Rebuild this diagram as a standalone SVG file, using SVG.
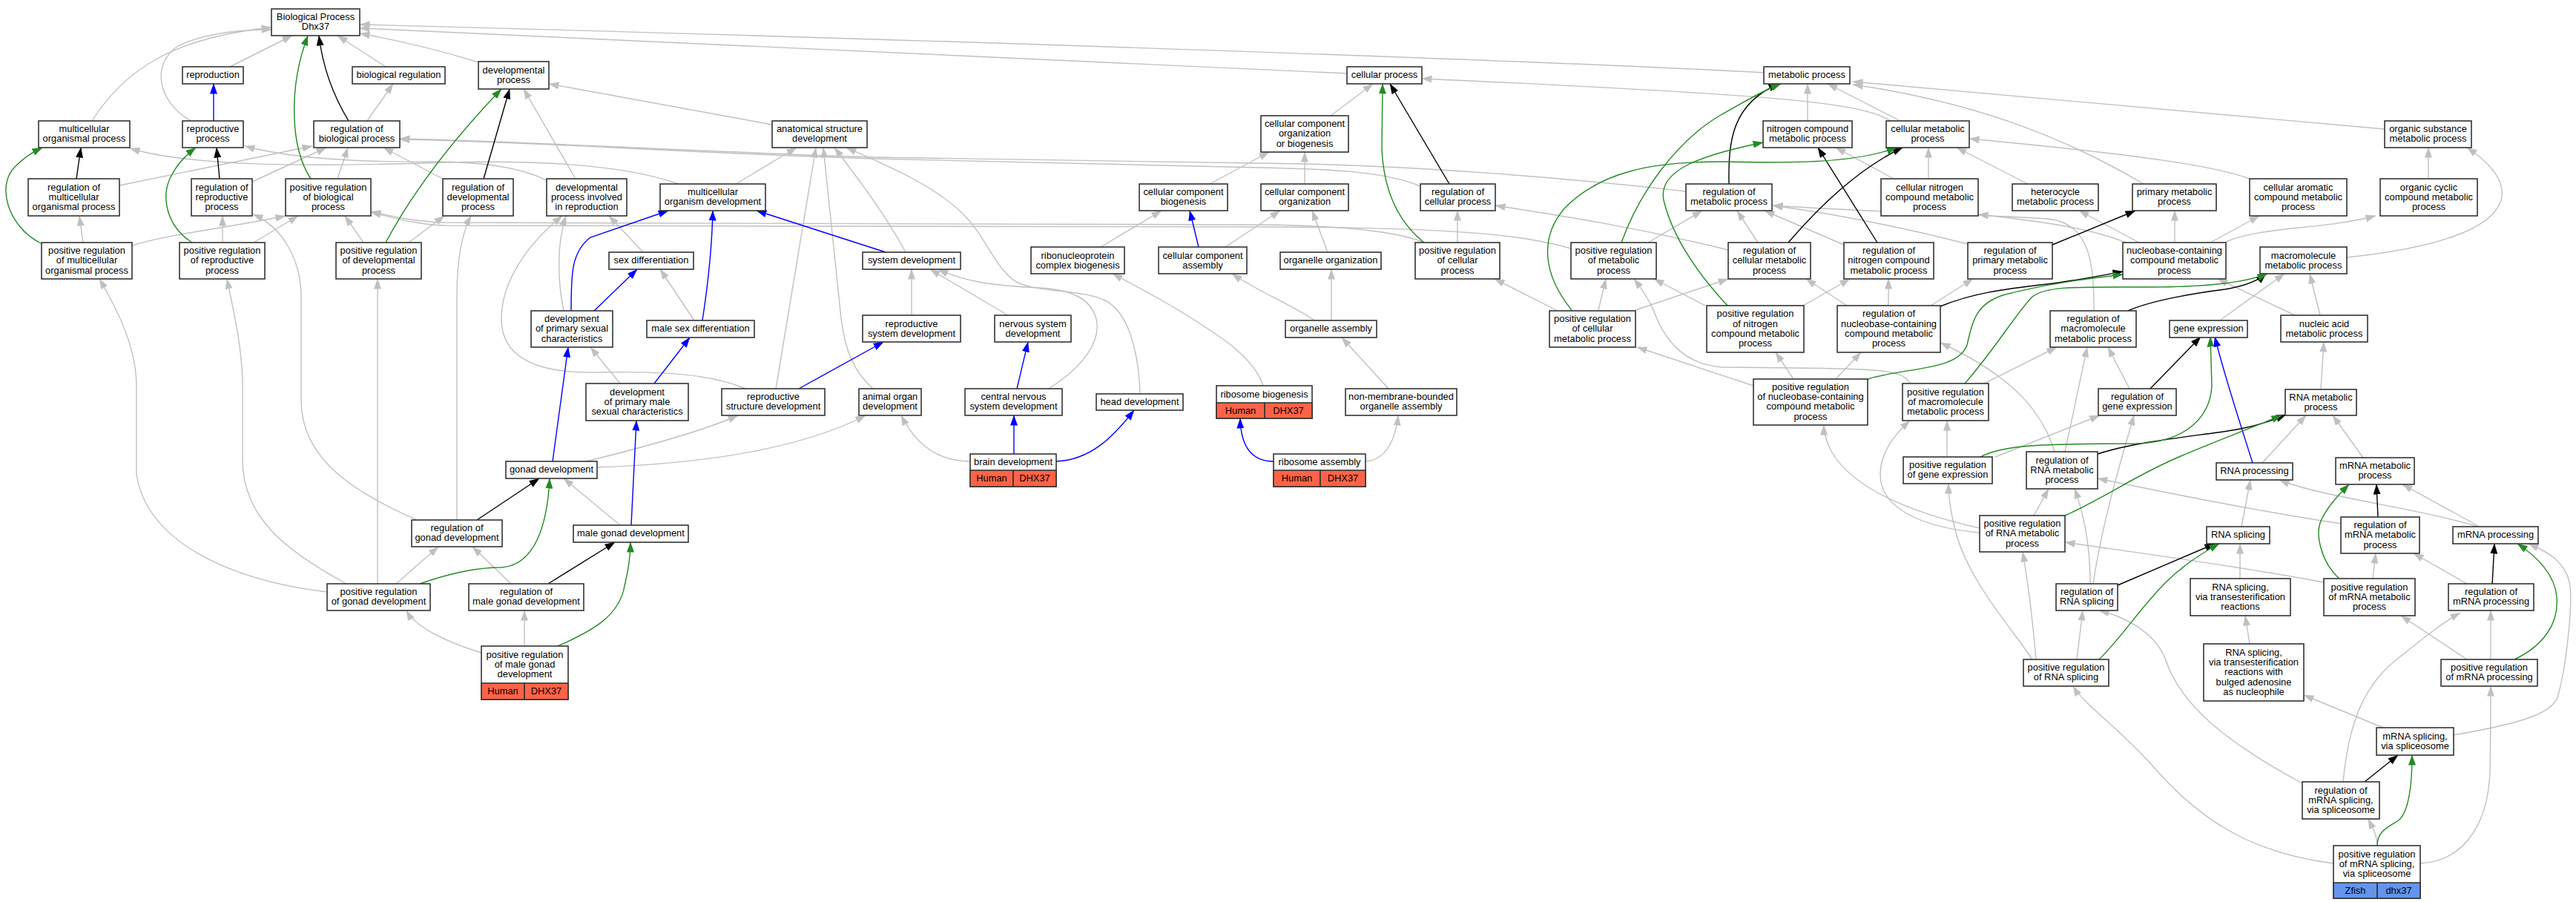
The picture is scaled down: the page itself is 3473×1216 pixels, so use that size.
<svg xmlns="http://www.w3.org/2000/svg" width="3473" height="1216" viewBox="0 0 3473 1216">
<style>
.n rect{fill:#fff;stroke:#333;stroke-width:1.6}
.n rect.red{fill:#ff6347}
.n rect.blu{fill:#6495ed}
text{font-family:"Liberation Sans",Arial,sans-serif;font-size:12.9px;text-anchor:middle;fill:#000}
#edges path{fill:none;stroke-width:1.4}
.g{stroke:#c0c0c0;marker-end:url(#ag)}
.k{stroke:#000;marker-end:url(#ak)}
.v{stroke:#228b22;marker-end:url(#av)}
.b{stroke:#0000ff;marker-end:url(#ab)}
</style>
<defs>
<marker id="ag" viewBox="0 0 14 10" refX="13.5" refY="5" markerWidth="14" markerHeight="10" markerUnits="userSpaceOnUse" orient="auto"><path d="M0,0L14,5L0,10z" fill="#c0c0c0"/></marker>
<marker id="ak" viewBox="0 0 14 10" refX="13.5" refY="5" markerWidth="14" markerHeight="10" markerUnits="userSpaceOnUse" orient="auto"><path d="M0,0L14,5L0,10z" fill="#000"/></marker>
<marker id="av" viewBox="0 0 14 10" refX="13.5" refY="5" markerWidth="14" markerHeight="10" markerUnits="userSpaceOnUse" orient="auto"><path d="M0,0L14,5L0,10z" fill="#228b22"/></marker>
<marker id="ab" viewBox="0 0 14 10" refX="13.5" refY="5" markerWidth="14" markerHeight="10" markerUnits="userSpaceOnUse" orient="auto"><path d="M0,0L14,5L0,10z" fill="#0000ff"/></marker>
</defs>
<rect width="3473" height="1216" fill="#fff"/>
<g id="edges">
<path class="g" d="M310,90 L394,48"/>
<path class="g" d="M124,163 C170,90 240,50 366,37"/>
<path class="g" d="M257,163 C210,135 205,85 240,62 C275,45 320,40 366,40"/>
<path class="g" d="M520,90 L455,48"/>
<path class="g" d="M645,84 C600,70 540,55 485,45"/>
<path class="g" d="M1816,99 L485,38"/>
<path class="g" d="M2378,98 C2200,88 1500,60 485,33"/>
<path class="g" d="M495,163 L530,113"/>
<path class="g" d="M1794,156 L1851,113"/>
<path class="g" d="M1631,248 L1711,205"/>
<path class="g" d="M1759,248 L1759,205"/>
<path class="g" d="M2549,163 C2510,138 2400,128 1917,106"/>
<path class="g" d="M2437,163 L2437,113"/>
<path class="g" d="M2562,163 L2464,113"/>
<path class="g" d="M3215,174 L2498,110"/>
<path class="g" d="M2890,248 C2800,195 2680,140 2498,114"/>
<path class="g" d="M3033,241 C2990,225 2900,210 2655,187"/>
<path class="g" d="M2600,241 L2600,199"/>
<path class="g" d="M2734,248 L2638,199"/>
<path class="g" d="M2553,241 L2475,199"/>
<path class="g" d="M2866,327 C2820,308 2750,298 2667,289"/>
<path class="g" d="M2884,327 L2803,284"/>
<path class="g" d="M2932,327 L2932,284"/>
<path class="g" d="M2980,327 L3046,291"/>
<path class="g" d="M3001,326 C3050,305 3130,310 3203,291"/>
<path class="g" d="M3274,241 L3274,199"/>
<path class="g" d="M3164,347 C3280,335 3360,310 3372,270 C3380,240 3350,215 3326,199"/>
<path class="g" d="M3128,425 L3114,369"/>
<path class="g" d="M3094,425 L2990,376"/>
<path class="g" d="M2993,432 L3080,369"/>
<path class="g" d="M3129,525 L3133,461"/>
<path class="g" d="M3050,624 L3109,560"/>
<path class="g" d="M3186,617 L3145,560"/>
<path class="g" d="M3022,710 L3034,647"/>
<path class="g" d="M3341,710 C3260,685 3130,670 3073,647"/>
<path class="g" d="M3343,710 L3239,653"/>
<path class="g" d="M3020,780 L3020,733"/>
<path class="g" d="M3033,868 L3027,830"/>
<path class="g" d="M3326,787 L3254,746"/>
<path class="g" d="M3358,889 L3358,823"/>
<path class="g" d="M3326,889 L3237,830"/>
<path class="g" d="M3199,780 L3203,746"/>
<path class="g" d="M3213,981 L3106,937"/>
<path class="g" d="M3308,991 C3400,975 3440,962 3448,940 C3460,900 3468,820 3465,790 C3460,755 3430,742 3409,733"/>
<path class="g" d="M3159,1054 C3165,990 3180,930 3230,890 C3265,862 3295,838 3317,826"/>
<path class="g" d="M3104,1056 C3000,1000 2940,950 2920,890 C2905,850 2860,830 2830,823"/>
<path class="g" d="M3205,1140 C3205,1125 3198,1115 3193,1104"/>
<path class="g" d="M3263,1164 C3330,1160 3355,1100 3357,1040 C3358,990 3358,950 3358,925"/>
<path class="g" d="M3146,1164 C3030,1150 2960,1100 2900,1030 C2860,985 2810,950 2795,925"/>
<path class="g" d="M3156,706 C3050,690 2900,660 2828,645"/>
<path class="g" d="M3133,785 C3030,765 2880,745 2784,731"/>
<path class="g" d="M2818,787 C2818,740 2812,700 2797,659"/>
<path class="g" d="M2822,787 C2835,700 2860,620 2877,560"/>
<path class="g" d="M2745,889 C2740,830 2735,790 2727,744"/>
<path class="g" d="M2740,889 C2715,850 2650,780 2635,710 C2630,690 2627,670 2627,652"/>
<path class="g" d="M2800,889 L2808,823"/>
<path class="g" d="M2742,695 L2762,659"/>
<path class="g" d="M2669,712 C2580,692 2500,660 2470,610 C2462,595 2459,585 2459,573"/>
<path class="g" d="M2669,718 C2580,710 2535,680 2535,640 C2535,610 2555,585 2575,567"/>
<path class="g" d="M2625,616 L2625,567"/>
<path class="g" d="M2690,616 L2831,560"/>
<path class="g" d="M2675,517 L2773,468"/>
<path class="g" d="M2784,609 L2814,468"/>
<path class="g" d="M2871,524 L2842,468"/>
<path class="g" d="M2770,609 C2755,560 2720,510 2616,462"/>
<path class="g" d="M2418,511 L2394,475"/>
<path class="g" d="M2475,511 L2509,475"/>
<path class="g" d="M2364,520 L2207,468"/>
<path class="g" d="M2575,517 C2565,495 2520,497 2320,495 C2270,490 2245,460 2230,420 C2222,400 2210,385 2203,376"/>
<path class="g" d="M2299,412 L2230,376"/>
<path class="g" d="M2431,412 L2494,376"/>
<path class="g" d="M2490,412 L2435,376"/>
<path class="g" d="M2546,412 L2546,376"/>
<path class="g" d="M2603,412 L2660,376"/>
<path class="g" d="M2823,419 C2823,360 2820,300 2760,295 C2650,288 2500,285 2390,277"/>
<path class="g" d="M2653,329 C2560,305 2470,288 2390,277"/>
<path class="g" d="M2370,327 L2342,284"/>
<path class="g" d="M2486,330 L2379,284"/>
<path class="g" d="M2222,327 L2295,284"/>
<path class="g" d="M2330,337 C2200,305 2100,290 2016,277"/>
<path class="g" d="M2205,418 L2330,376"/>
<path class="g" d="M2155,418 L2165,376"/>
<path class="g" d="M2098,418 L2015,376"/>
<path class="g" d="M1965,327 L1965,284"/>
<path class="g" d="M1915,251 C1870,232 1800,228 1700,226 L1180,214 C900,205 700,190 539,188"/>
<path class="g" d="M2273,258 C2100,238 1900,224 1760,221 L1180,212 C900,203 700,190 539,187"/>
<path class="g" d="M915,248 C850,225 750,215 600,219 C420,225 260,225 175,200"/>
<path class="g" d="M737,243 C700,225 650,218 580,218 C470,219 390,213 330,197"/>
<path class="g" d="M597,241 L517,199"/>
<path class="g" d="M161,250 L421,197"/>
<path class="g" d="M340,245 L440,199"/>
<path class="g" d="M455,241 L469,199"/>
<path class="g" d="M178,331 C230,315 320,305 385,291"/>
<path class="g" d="M342,327 L402,291"/>
<path class="g" d="M490,327 L465,291"/>
<path class="g" d="M1920,327 C1880,310 1800,304 1700,303 L600,300 C560,299 530,292 500,285"/>
<path class="g" d="M2118,335 C2060,318 1980,308 1740,306 L600,304 C560,303 530,293 500,286"/>
<path class="g" d="M112,327 L107,291"/>
<path class="g" d="M300,327 L300,291"/>
<path class="g" d="M551,327 L599,291"/>
<path class="g" d="M562,701 C480,665 406,620 406,540 L406,400 C406,350 380,305 341,289"/>
<path class="g" d="M467,787 C390,745 327,700 327,620 L327,520 C327,470 315,420 306,376"/>
<path class="g" d="M441,798 C330,785 200,740 184,640 L184,520 C184,470 160,420 134,376"/>
<path class="g" d="M509,787 L509,376"/>
<path class="g" d="M616,701 L616,400 C616,340 625,310 635,291"/>
<path class="g" d="M534,787 L591,737"/>
<path class="g" d="M689,787 L637,737"/>
<path class="g" d="M836,708 L760,645"/>
<path class="g" d="M790,622 C880,600 950,580 995,560"/>
<path class="g" d="M805,630 C950,625 1080,605 1167,560"/>
<path class="g" d="M836,517 L796,468"/>
<path class="g" d="M936,432 L890,363"/>
<path class="g" d="M867,340 L821,291"/>
<path class="g" d="M760,419 C752,380 750,330 763,291"/>
<path class="g" d="M1005,524 C960,505 900,500 800,502 C720,503 676,480 676,430 C676,380 710,330 758,291"/>
<path class="g" d="M1046,524 L1100,199"/>
<path class="g" d="M1177,524 C1150,500 1138,470 1133,420 L1110,199"/>
<path class="g" d="M1221,340 C1205,310 1180,270 1125,199"/>
<path class="g" d="M1537,531 C1535,470 1520,420 1490,405 C1460,390 1400,395 1370,380 C1340,360 1330,320 1300,290 C1260,250 1200,225 1141,199"/>
<path class="g" d="M1359,425 L1254,363"/>
<path class="g" d="M1229,425 L1229,363"/>
<path class="g" d="M1414,524 C1460,495 1485,460 1478,430 C1470,400 1440,390 1400,388 C1340,385 1300,380 1265,363"/>
<path class="g" d="M1308,622 C1265,622 1235,600 1215,560"/>
<path class="g" d="M1484,333 L1566,284"/>
<path class="g" d="M1652,333 L1726,284"/>
<path class="g" d="M1790,340 L1769,284"/>
<path class="g" d="M1772,432 C1740,410 1700,395 1661,369"/>
<path class="g" d="M1795,432 L1795,363"/>
<path class="g" d="M1872,524 L1809,455"/>
<path class="g" d="M1841,622 C1870,620 1882,590 1885,560"/>
<path class="g" d="M1703,520 C1690,480 1640,450 1600,425 C1560,400 1530,385 1500,369"/>
<path class="g" d="M992,248 L1074,199"/>
<path class="g" d="M776,241 L706,120"/>
<path class="g" d="M1041,168 L740,113"/>
<path class="g" d="M707,871 L707,823"/>
<path class="g" d="M649,880 C600,865 560,845 548,823"/>
<path class="b" d="M288,163 L288,113"/>
<path class="b" d="M770,419 C770,370 770,340 796,320 L901,284"/>
<path class="b" d="M947,432 C955,380 960,330 961,284"/>
<path class="b" d="M1194,340 L1020,284"/>
<path class="b" d="M801,419 L859,363"/>
<path class="b" d="M745,622 L766,468"/>
<path class="b" d="M882,517 L930,455"/>
<path class="b" d="M851,708 L858,567"/>
<path class="b" d="M1077,524 L1191,461"/>
<path class="b" d="M1371,524 L1386,461"/>
<path class="b" d="M1367,612 L1367,560"/>
<path class="b" d="M1424,622 C1470,620 1500,590 1529,553"/>
<path class="b" d="M1717,622 C1690,622 1673,605 1672,564"/>
<path class="b" d="M1616,333 L1604,284"/>
<path class="b" d="M3037,624 C3020,570 3000,510 2986,454"/>
<path class="k" d="M470,163 C450,130 435,90 430,48"/>
<path class="k" d="M103,241 L109,199"/>
<path class="k" d="M296,241 L292,199"/>
<path class="k" d="M652,241 L687,120"/>
<path class="k" d="M643,701 L727,645"/>
<path class="k" d="M739,787 L829,731"/>
<path class="k" d="M1954,248 L1874,113"/>
<path class="k" d="M2331,248 C2330,190 2335,140 2398,113"/>
<path class="k" d="M2411,327 C2460,270 2510,225 2565,199"/>
<path class="k" d="M2531,327 L2451,199"/>
<path class="k" d="M2767,330 L2879,284"/>
<path class="k" d="M2616,413 C2660,395 2700,390 2760,383 C2800,378 2830,372 2862,366"/>
<path class="k" d="M2869,419 C2900,405 2960,395 3000,390 C3030,385 3045,378 3055,369"/>
<path class="k" d="M2899,524 L2967,454"/>
<path class="k" d="M2828,612 C2880,595 2960,588 3010,580 C3045,574 3065,566 3082,559"/>
<path class="k" d="M2855,789 L2986,733"/>
<path class="k" d="M3206,697 L3204,653"/>
<path class="k" d="M3360,789 L3363,733"/>
<path class="k" d="M3188,1054 L3233,1018"/>
<path class="v" d="M419,241 C392,200 388,120 415,48"/>
<path class="v" d="M55,328 C10,305 -5,250 20,225 C35,210 45,205 57,199"/>
<path class="v" d="M259,327 C225,305 215,265 232,235 C240,220 252,208 264,199"/>
<path class="v" d="M520,327 C545,280 590,210 676,120"/>
<path class="v" d="M566,787 C600,775 640,765 676,765 C720,762 738,710 741,645"/>
<path class="v" d="M752,871 C800,850 835,830 842,790 C848,765 850,745 850,731"/>
<path class="v" d="M1920,327 C1880,295 1865,250 1863,200 L1864,113"/>
<path class="v" d="M2186,327 C2210,260 2260,190 2320,155 C2350,138 2375,123 2401,113"/>
<path class="v" d="M2119,418 C2080,370 2075,320 2110,280 C2160,230 2230,218 2320,218 C2420,220 2500,220 2557,199"/>
<path class="v" d="M2329,412 C2290,370 2255,320 2243,270 C2235,230 2290,210 2377,192"/>
<path class="v" d="M2518,511 C2570,495 2640,500 2652,465 C2660,430 2665,410 2700,398 C2760,382 2820,375 2862,370"/>
<path class="v" d="M2649,517 C2690,470 2720,420 2740,400 C2760,385 2800,387 2900,387 C2980,387 3030,380 3057,369"/>
<path class="v" d="M2670,616 C2700,600 2750,598 2880,598 C2950,596 2980,560 2982,520 L2980,454"/>
<path class="v" d="M2784,695 C2840,670 2880,640 2940,615 C3000,590 3040,575 3076,560"/>
<path class="v" d="M2830,889 C2860,860 2885,820 2920,785 C2945,760 2970,745 2992,733"/>
<path class="v" d="M3156,782 C3130,760 3120,720 3130,700 C3140,680 3155,665 3167,653"/>
<path class="v" d="M3390,889 C3430,870 3450,840 3447,805 C3445,775 3420,750 3394,733"/>
<path class="v" d="M3205,1140 C3205,1120 3220,1115 3235,1105 C3250,1090 3252,1050 3252,1018"/>
</g>
<g id="n_bp" class="n"><rect x="366" y="12" width="119" height="36"/><text x="425.5" y="27.15">Biological Process<tspan x="425.5" dy="13.3">Dhx37</tspan></text></g>
<g id="n_repro" class="n"><rect x="246" y="90" width="82" height="23"/><text x="287" y="105.3">reproduction</text></g>
<g id="n_bioreg" class="n"><rect x="475" y="90" width="125" height="23"/><text x="537.5" y="105.3">biological regulation</text></g>
<g id="n_devproc" class="n"><rect x="645" y="83" width="95" height="37"/><text x="692.5" y="98.65">developmental<tspan x="692.5" dy="13.3">process</tspan></text></g>
<g id="n_cp" class="n"><rect x="1816" y="90" width="101" height="23"/><text x="1866.5" y="105.3">cellular process</text></g>
<g id="n_mp" class="n"><rect x="2378" y="90" width="116" height="23"/><text x="2436" y="105.3">metabolic process</text></g>
<g id="n_mop" class="n"><rect x="52" y="163" width="123" height="36"/><text x="113.5" y="178.15">multicellular<tspan x="113.5" dy="13.3">organismal process</tspan></text></g>
<g id="n_rp" class="n"><rect x="246" y="163" width="82" height="36"/><text x="287" y="178.15">reproductive<tspan x="287" dy="13.3">process</tspan></text></g>
<g id="n_rbp" class="n"><rect x="423" y="163" width="116" height="36"/><text x="481" y="178.15">regulation of<tspan x="481" dy="13.3">biological process</tspan></text></g>
<g id="n_asd" class="n"><rect x="1041" y="163" width="128" height="36"/><text x="1105" y="178.15">anatomical structure<tspan x="1105" dy="13.3">development</tspan></text></g>
<g id="n_ccoob" class="n"><rect x="1700" y="156" width="118" height="49"/><text x="1759" y="171">cellular component<tspan x="1759" dy="13.3">organization</tspan><tspan x="1759" dy="13.3">or biogenesis</tspan></text></g>
<g id="n_ncmp" class="n"><rect x="2377" y="163" width="120" height="36"/><text x="2437" y="178.15">nitrogen compound<tspan x="2437" dy="13.3">metabolic process</tspan></text></g>
<g id="n_cmp" class="n"><rect x="2543" y="163" width="112" height="36"/><text x="2599" y="178.15">cellular metabolic<tspan x="2599" dy="13.3">process</tspan></text></g>
<g id="n_osmp" class="n"><rect x="3215" y="163" width="117" height="36"/><text x="3273.5" y="178.15">organic substance<tspan x="3273.5" dy="13.3">metabolic process</tspan></text></g>
<g id="n_rmop" class="n"><rect x="38" y="241" width="123" height="50"/><text x="99.5" y="256.5">regulation of<tspan x="99.5" dy="13.3">multicellular</tspan><tspan x="99.5" dy="13.3">organismal process</tspan></text></g>
<g id="n_rrp" class="n"><rect x="258" y="241" width="82" height="50"/><text x="299" y="256.5">regulation of<tspan x="299" dy="13.3">reproductive</tspan><tspan x="299" dy="13.3">process</tspan></text></g>
<g id="n_prbp" class="n"><rect x="385" y="241" width="115" height="50"/><text x="442.5" y="256.5">positive regulation<tspan x="442.5" dy="13.3">of biological</tspan><tspan x="442.5" dy="13.3">process</tspan></text></g>
<g id="n_rdp" class="n"><rect x="597" y="241" width="95" height="50"/><text x="644.5" y="256.5">regulation of<tspan x="644.5" dy="13.3">developmental</tspan><tspan x="644.5" dy="13.3">process</tspan></text></g>
<g id="n_dpir" class="n"><rect x="737" y="241" width="108" height="50"/><text x="791" y="256.5">developmental<tspan x="791" dy="13.3">process involved</tspan><tspan x="791" dy="13.3">in reproduction</tspan></text></g>
<g id="n_mod" class="n"><rect x="890" y="248" width="142" height="36"/><text x="961" y="263.15">multicellular<tspan x="961" dy="13.3">organism development</tspan></text></g>
<g id="n_ccb" class="n"><rect x="1536" y="248" width="119" height="36"/><text x="1595.5" y="263.15">cellular component<tspan x="1595.5" dy="13.3">biogenesis</tspan></text></g>
<g id="n_cco" class="n"><rect x="1700" y="248" width="118" height="36"/><text x="1759" y="263.15">cellular component<tspan x="1759" dy="13.3">organization</tspan></text></g>
<g id="n_rcp" class="n"><rect x="1915" y="248" width="101" height="36"/><text x="1965.5" y="263.15">regulation of<tspan x="1965.5" dy="13.3">cellular process</tspan></text></g>
<g id="n_rmp" class="n"><rect x="2273" y="248" width="116" height="36"/><text x="2331" y="263.15">regulation of<tspan x="2331" dy="13.3">metabolic process</tspan></text></g>
<g id="n_cncmp" class="n"><rect x="2536" y="241" width="131" height="50"/><text x="2601.5" y="256.5">cellular nitrogen<tspan x="2601.5" dy="13.3">compound metabolic</tspan><tspan x="2601.5" dy="13.3">process</tspan></text></g>
<g id="n_het" class="n"><rect x="2713" y="248" width="116" height="36"/><text x="2771" y="263.15">heterocycle<tspan x="2771" dy="13.3">metabolic process</tspan></text></g>
<g id="n_pmp" class="n"><rect x="2875" y="248" width="113" height="36"/><text x="2931.5" y="263.15">primary metabolic<tspan x="2931.5" dy="13.3">process</tspan></text></g>
<g id="n_cacmp" class="n"><rect x="3033" y="241" width="131" height="50"/><text x="3098.5" y="256.5">cellular aromatic<tspan x="3098.5" dy="13.3">compound metabolic</tspan><tspan x="3098.5" dy="13.3">process</tspan></text></g>
<g id="n_occmp" class="n"><rect x="3209" y="241" width="131" height="50"/><text x="3274.5" y="256.5">organic cyclic<tspan x="3274.5" dy="13.3">compound metabolic</tspan><tspan x="3274.5" dy="13.3">process</tspan></text></g>
<g id="n_prmop" class="n"><rect x="56" y="327" width="122" height="49"/><text x="117" y="342">positive regulation<tspan x="117" dy="13.3">of multicellular</tspan><tspan x="117" dy="13.3">organismal process</tspan></text></g>
<g id="n_prrp" class="n"><rect x="242" y="327" width="115" height="49"/><text x="299.5" y="342">positive regulation<tspan x="299.5" dy="13.3">of reproductive</tspan><tspan x="299.5" dy="13.3">process</tspan></text></g>
<g id="n_prdp" class="n"><rect x="453" y="327" width="115" height="49"/><text x="510.5" y="342">positive regulation<tspan x="510.5" dy="13.3">of developmental</tspan><tspan x="510.5" dy="13.3">process</tspan></text></g>
<g id="n_sd" class="n"><rect x="821" y="340" width="114" height="23"/><text x="878" y="355.3">sex differentiation</text></g>
<g id="n_sysdev" class="n"><rect x="1163" y="340" width="132" height="23"/><text x="1229" y="355.3">system development</text></g>
<g id="n_rcb" class="n"><rect x="1390" y="333" width="126" height="36"/><text x="1453" y="348.65">ribonucleoprotein<tspan x="1453" dy="13.3">complex biogenesis</tspan></text></g>
<g id="n_cca" class="n"><rect x="1562" y="333" width="119" height="36"/><text x="1621.5" y="348.65">cellular component<tspan x="1621.5" dy="13.3">assembly</tspan></text></g>
<g id="n_oo" class="n"><rect x="1726" y="340" width="136" height="23"/><text x="1794" y="355.3">organelle organization</text></g>
<g id="n_prcp" class="n"><rect x="1908" y="327" width="114" height="49"/><text x="1965" y="342">positive regulation<tspan x="1965" dy="13.3">of cellular</tspan><tspan x="1965" dy="13.3">process</tspan></text></g>
<g id="n_prmp" class="n"><rect x="2118" y="327" width="115" height="49"/><text x="2175.5" y="342">positive regulation<tspan x="2175.5" dy="13.3">of metabolic</tspan><tspan x="2175.5" dy="13.3">process</tspan></text></g>
<g id="n_rcmp" class="n"><rect x="2330" y="327" width="111" height="49"/><text x="2385.5" y="342">regulation of<tspan x="2385.5" dy="13.3">cellular metabolic</tspan><tspan x="2385.5" dy="13.3">process</tspan></text></g>
<g id="n_rncmp" class="n"><rect x="2486" y="327" width="121" height="49"/><text x="2546.5" y="342">regulation of<tspan x="2546.5" dy="13.3">nitrogen compound</tspan><tspan x="2546.5" dy="13.3">metabolic process</tspan></text></g>
<g id="n_rpmp" class="n"><rect x="2653" y="327" width="114" height="49"/><text x="2710" y="342">regulation of<tspan x="2710" dy="13.3">primary metabolic</tspan><tspan x="2710" dy="13.3">process</tspan></text></g>
<g id="n_nccmp" class="n"><rect x="2862" y="327" width="139" height="49"/><text x="2931.5" y="342">nucleobase-containing<tspan x="2931.5" dy="13.3">compound metabolic</tspan><tspan x="2931.5" dy="13.3">process</tspan></text></g>
<g id="n_mmp" class="n"><rect x="3047" y="333" width="117" height="36"/><text x="3105.5" y="348.65">macromolecule<tspan x="3105.5" dy="13.3">metabolic process</tspan></text></g>
<g id="n_dpsc" class="n"><rect x="716" y="419" width="110" height="49"/><text x="771" y="434">development<tspan x="771" dy="13.3">of primary sexual</tspan><tspan x="771" dy="13.3">characteristics</tspan></text></g>
<g id="n_msd" class="n"><rect x="872" y="432" width="145" height="23"/><text x="944.5" y="447.3">male sex differentiation</text></g>
<g id="n_rsysdev" class="n"><rect x="1163" y="425" width="132" height="36"/><text x="1229" y="440.65">reproductive<tspan x="1229" dy="13.3">system development</tspan></text></g>
<g id="n_nsd" class="n"><rect x="1341" y="425" width="103" height="36"/><text x="1392.5" y="440.65">nervous system<tspan x="1392.5" dy="13.3">development</tspan></text></g>
<g id="n_oa" class="n"><rect x="1733" y="432" width="123" height="23"/><text x="1794.5" y="447.3">organelle assembly</text></g>
<g id="n_prcmp" class="n"><rect x="2089" y="419" width="116" height="49"/><text x="2147" y="434">positive regulation<tspan x="2147" dy="13.3">of cellular</tspan><tspan x="2147" dy="13.3">metabolic process</tspan></text></g>
<g id="n_prncmp" class="n"><rect x="2301" y="412" width="131" height="63"/><text x="2366.5" y="427.35">positive regulation<tspan x="2366.5" dy="13.3">of nitrogen</tspan><tspan x="2366.5" dy="13.3">compound metabolic</tspan><tspan x="2366.5" dy="13.3">process</tspan></text></g>
<g id="n_rnccmp" class="n"><rect x="2477" y="412" width="139" height="63"/><text x="2546.5" y="427.35">regulation of<tspan x="2546.5" dy="13.3">nucleobase-containing</tspan><tspan x="2546.5" dy="13.3">compound metabolic</tspan><tspan x="2546.5" dy="13.3">process</tspan></text></g>
<g id="n_rmmp" class="n"><rect x="2764" y="419" width="116" height="49"/><text x="2822" y="434">regulation of<tspan x="2822" dy="13.3">macromolecule</tspan><tspan x="2822" dy="13.3">metabolic process</tspan></text></g>
<g id="n_ge" class="n"><rect x="2925" y="432" width="105" height="23"/><text x="2977.5" y="447.3">gene expression</text></g>
<g id="n_nam" class="n"><rect x="3075" y="425" width="117" height="36"/><text x="3133.5" y="440.65">nucleic acid<tspan x="3133.5" dy="13.3">metabolic process</tspan></text></g>
<g id="n_dpmsc" class="n"><rect x="790" y="517" width="138" height="50"/><text x="859" y="532.5">development<tspan x="859" dy="13.3">of primary male</tspan><tspan x="859" dy="13.3">sexual characteristics</tspan></text></g>
<g id="n_rsd" class="n"><rect x="973" y="524" width="139" height="36"/><text x="1042.5" y="539.15">reproductive<tspan x="1042.5" dy="13.3">structure development</tspan></text></g>
<g id="n_aod" class="n"><rect x="1158" y="524" width="84" height="36"/><text x="1200" y="539.15">animal organ<tspan x="1200" dy="13.3">development</tspan></text></g>
<g id="n_cnsd" class="n"><rect x="1301" y="524" width="131" height="36"/><text x="1366.5" y="539.15">central nervous<tspan x="1366.5" dy="13.3">system development</tspan></text></g>
<g id="n_head" class="n"><rect x="1478" y="531" width="117" height="22"/><text x="1536.5" y="545.8">head development</text></g>
<g id="n_rb" class="n"><rect x="1640" y="520" width="129" height="44"/><rect class="red" x="1640" y="543" width="65" height="21"/><rect class="red" x="1705" y="543" width="64" height="21"/><text x="1704.5" y="535.5">ribosome biogenesis</text><text x="1672.5" y="557.5">Human</text><text x="1737" y="557.5">DHX37</text></g>
<g id="n_nmboa" class="n"><rect x="1814" y="524" width="150" height="36"/><text x="1889" y="539.15">non-membrane-bounded<tspan x="1889" dy="13.3">organelle assembly</tspan></text></g>
<g id="n_prnccmp" class="n"><rect x="2364" y="511" width="154" height="62"/><text x="2441" y="525.85">positive regulation<tspan x="2441" dy="13.3">of nucleobase-containing</tspan><tspan x="2441" dy="13.3">compound metabolic</tspan><tspan x="2441" dy="13.3">process</tspan></text></g>
<g id="n_prmmp" class="n"><rect x="2565" y="517" width="116" height="50"/><text x="2623" y="532.5">positive regulation<tspan x="2623" dy="13.3">of macromolecule</tspan><tspan x="2623" dy="13.3">metabolic process</tspan></text></g>
<g id="n_rge" class="n"><rect x="2829" y="524" width="105" height="36"/><text x="2881.5" y="539.15">regulation of<tspan x="2881.5" dy="13.3">gene expression</tspan></text></g>
<g id="n_rnamp" class="n"><rect x="3081" y="525" width="96" height="35"/><text x="3129" y="539.65">RNA metabolic<tspan x="3129" dy="13.3">process</tspan></text></g>
<g id="n_gd" class="n"><rect x="682" y="622" width="123" height="23"/><text x="743.5" y="637.3">gonad development</text></g>
<g id="n_bd" class="n"><rect x="1308" y="612" width="116" height="44"/><rect class="red" x="1308" y="634" width="58" height="22"/><rect class="red" x="1366" y="634" width="58" height="22"/><text x="1366" y="627">brain development</text><text x="1337" y="649">Human</text><text x="1395" y="649">DHX37</text></g>
<g id="n_ra" class="n"><rect x="1717" y="612" width="124" height="44"/><rect class="red" x="1717" y="634" width="63" height="22"/><rect class="red" x="1780" y="634" width="61" height="22"/><text x="1779" y="627">ribosome assembly</text><text x="1748.5" y="649">Human</text><text x="1810.5" y="649">DHX37</text></g>
<g id="n_prge" class="n"><rect x="2566" y="616" width="120" height="36"/><text x="2626" y="631.15">positive regulation<tspan x="2626" dy="13.3">of gene expression</tspan></text></g>
<g id="n_rrnamp" class="n"><rect x="2732" y="609" width="96" height="50"/><text x="2780" y="624.5">regulation of<tspan x="2780" dy="13.3">RNA metabolic</tspan><tspan x="2780" dy="13.3">process</tspan></text></g>
<g id="n_rnap" class="n"><rect x="2988" y="624" width="103" height="23"/><text x="3039.5" y="639.3">RNA processing</text></g>
<g id="n_mrnamp" class="n"><rect x="3149" y="617" width="106" height="36"/><text x="3202" y="632.15">mRNA metabolic<tspan x="3202" dy="13.3">process</tspan></text></g>
<g id="n_rgd" class="n"><rect x="555" y="701" width="122" height="36"/><text x="616" y="716.15">regulation of<tspan x="616" dy="13.3">gonad development</tspan></text></g>
<g id="n_mgd" class="n"><rect x="773" y="708" width="155" height="23"/><text x="850.5" y="723.3">male gonad development</text></g>
<g id="n_prrnamp" class="n"><rect x="2669" y="695" width="115" height="49"/><text x="2726.5" y="710">positive regulation<tspan x="2726.5" dy="13.3">of RNA metabolic</tspan><tspan x="2726.5" dy="13.3">process</tspan></text></g>
<g id="n_rnas" class="n"><rect x="2975" y="710" width="85" height="23"/><text x="3017.5" y="725.3">RNA splicing</text></g>
<g id="n_rmrnamp" class="n"><rect x="3156" y="697" width="106" height="49"/><text x="3209" y="712">regulation of<tspan x="3209" dy="13.3">mRNA metabolic</tspan><tspan x="3209" dy="13.3">process</tspan></text></g>
<g id="n_mrnap" class="n"><rect x="3307" y="710" width="115" height="23"/><text x="3364.5" y="725.3">mRNA processing</text></g>
<g id="n_prgd" class="n"><rect x="441" y="787" width="139" height="36"/><text x="510.5" y="802.15">positive regulation<tspan x="510.5" dy="13.3">of gonad development</tspan></text></g>
<g id="n_rmgd" class="n"><rect x="632" y="787" width="155" height="36"/><text x="709.5" y="802.15">regulation of<tspan x="709.5" dy="13.3">male gonad development</tspan></text></g>
<g id="n_rrnas" class="n"><rect x="2772" y="787" width="83" height="36"/><text x="2813.5" y="802.15">regulation of<tspan x="2813.5" dy="13.3">RNA splicing</tspan></text></g>
<g id="n_rnasvt" class="n"><rect x="2953" y="780" width="135" height="50"/><text x="3020.5" y="795.5">RNA splicing,<tspan x="3020.5" dy="13.3">via transesterification</tspan><tspan x="3020.5" dy="13.3">reactions</tspan></text></g>
<g id="n_prmrnamp" class="n"><rect x="3133" y="780" width="123" height="50"/><text x="3194.5" y="795.5">positive regulation<tspan x="3194.5" dy="13.3">of mRNA metabolic</tspan><tspan x="3194.5" dy="13.3">process</tspan></text></g>
<g id="n_rmrnap" class="n"><rect x="3301" y="787" width="115" height="36"/><text x="3358.5" y="802.15">regulation of<tspan x="3358.5" dy="13.3">mRNA processing</tspan></text></g>
<g id="n_prmgd" class="n"><rect x="649" y="871" width="117" height="72"/><rect class="red" x="649" y="921" width="58" height="22"/><rect class="red" x="707" y="921" width="59" height="22"/><text x="707.5" y="886.5">positive regulation<tspan x="707.5" dy="13.3">of male gonad</tspan><tspan x="707.5" dy="13.3">development</tspan></text><text x="678" y="936">Human</text><text x="736.5" y="936">DHX37</text></g>
<g id="n_prrnas" class="n"><rect x="2728" y="889" width="115" height="36"/><text x="2785.5" y="904.15">positive regulation<tspan x="2785.5" dy="13.3">of RNA splicing</tspan></text></g>
<g id="n_bulged" class="n"><rect x="2971" y="868" width="135" height="77"/><text x="3038.5" y="883.7">RNA splicing,<tspan x="3038.5" dy="13.3">via transesterification</tspan><tspan x="3038.5" dy="13.3">reactions with</tspan><tspan x="3038.5" dy="13.3">bulged adenosine</tspan><tspan x="3038.5" dy="13.3">as nucleophile</tspan></text></g>
<g id="n_prmrnap" class="n"><rect x="3291" y="889" width="130" height="36"/><text x="3356" y="904.15">positive regulation<tspan x="3356" dy="13.3">of mRNA processing</tspan></text></g>
<g id="n_mss" class="n"><rect x="3204" y="981" width="104" height="37"/><text x="3256" y="996.65">mRNA splicing,<tspan x="3256" dy="13.3">via spliceosome</tspan></text></g>
<g id="n_rmss" class="n"><rect x="3104" y="1054" width="104" height="50"/><text x="3156" y="1069.5">regulation of<tspan x="3156" dy="13.3">mRNA splicing,</tspan><tspan x="3156" dy="13.3">via spliceosome</tspan></text></g>
<g id="n_prmss" class="n"><rect x="3146" y="1140" width="117" height="71"/><rect class="blu" x="3146" y="1190" width="59" height="21"/><rect class="blu" x="3205" y="1190" width="58" height="21"/><text x="3204.5" y="1155.5">positive regulation<tspan x="3204.5" dy="13.3">of mRNA splicing,</tspan><tspan x="3204.5" dy="13.3">via spliceosome</tspan></text><text x="3175.5" y="1204.5">Zfish</text><text x="3234" y="1204.5">dhx37</text></g>
</svg>
